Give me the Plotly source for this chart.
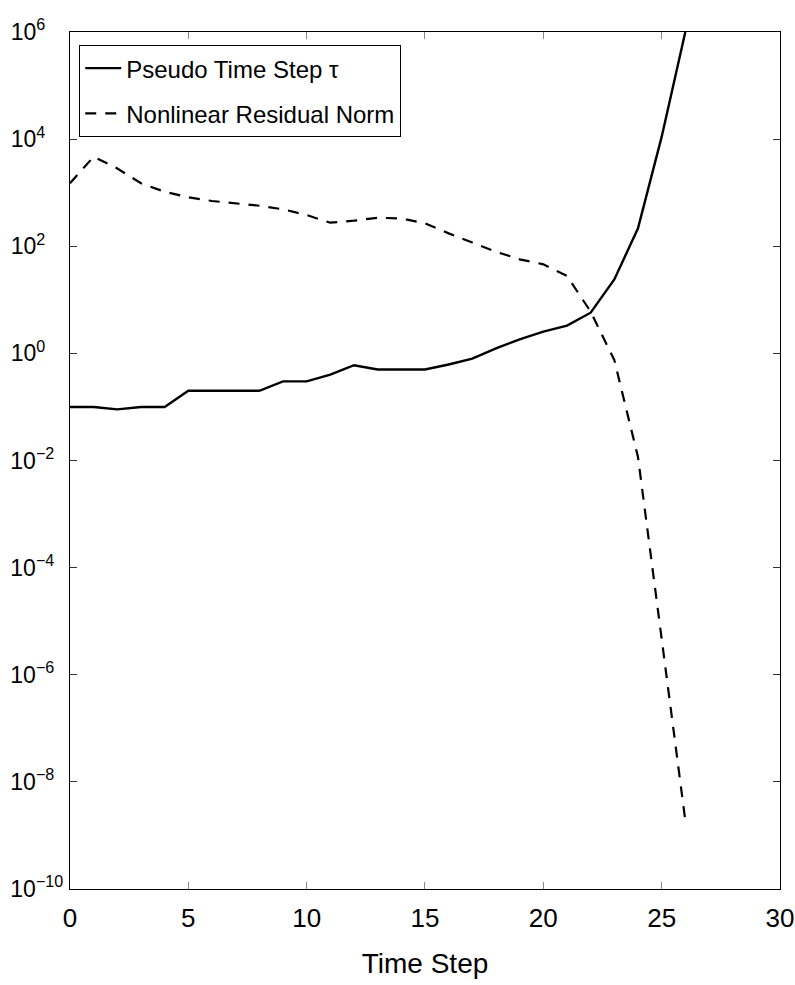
import plotly.graph_objects as go

# Time step index
steps = list(range(27))

# Pseudo time step tau per nonlinear iteration
tau = [0.1, 0.1, 0.09, 0.1, 0.1, 0.2, 0.2, 0.2, 0.2, 0.3, 0.3, 0.4, 0.6,
       0.5, 0.5, 0.5, 0.62, 0.8, 1.24, 1.83, 2.54, 3.3, 5.75, 24, 216,
       1.1e4, 1.0e6]

# Nonlinear residual norm per iteration
residual = [1500, 4700, 2830, 1500, 1040, 819, 700, 634, 571, 490, 383,
            275, 300, 341, 330, 268, 174, 117, 79, 57, 46, 28, 6.0, 0.75,
            0.0116, 4.7e-6, 1.9e-9]

x_ticks = [0, 5, 10, 15, 20, 25, 30]
y_exponents = [-10, -8, -6, -4, -2, 0, 2, 4, 6]

FONT = "Liberation Sans, Arial, Helvetica, sans-serif"


def power_label(e):
    # pad the exponent with figure spaces so every "10" base lines up
    exp = str(e).replace("-", "\u2212")
    pad = "\u2007" * (3 - len(exp))
    return "10<sup>%s%s</sup>" % (exp, pad)


y_tickvals = [10.0 ** e for e in y_exponents]
y_ticktext = [power_label(e) for e in y_exponents]

fig = go.Figure()
fig.add_trace(go.Scatter(
    x=steps, y=tau, mode="lines", name="Pseudo Time Step τ",
    legendgroup="a",
    line=dict(color="black", width=2.4),
))
fig.add_trace(go.Scatter(
    x=steps, y=residual, mode="lines", name="Nonlinear Residual Norm",
    legendgroup="b",
    line=dict(color="black", width=2.2, dash="11px,9px"),
))

fig.update_layout(
    width=795, height=985,
    margin=dict(l=70, r=15, t=32, b=96, autoexpand=False),
    paper_bgcolor="white", plot_bgcolor="white",
    font=dict(family=FONT, size=24, color="black"),
    showlegend=True,
    legend=dict(
        x=0.0127, y=0.985, xanchor="left", yanchor="top",
        bgcolor="white", bordercolor="black", borderwidth=1.2,
        font=dict(family=FONT, size=24, color="black"),
        tracegroupgap=11, itemwidth=36,
    ),
    xaxis=dict(
        range=[0, 30.001], tickvals=x_ticks, ticktext=[str(v) for v in x_ticks],
        ticks="inside", ticklen=7, tickcolor="#888", tickwidth=1.2,
        showline=True, linecolor="black", linewidth=1.4, mirror="ticks",
        showgrid=False, zeroline=False, automargin=False,
        ticklabelstandoff=6,
        title=dict(text="Time Step", font=dict(family=FONT, size=28), standoff=20),
        tickfont=dict(family=FONT, size=26),
    ),
    yaxis=dict(
        type="log", range=[-10, 6.0001],
        tickvals=y_tickvals, ticktext=y_ticktext,
        ticks="inside", ticklen=7, tickcolor="#333", tickwidth=1.2,
        showline=True, linecolor="black", linewidth=1.4, mirror="ticks",
        showgrid=False, zeroline=False, automargin=False,
        ticklabelstandoff=1,
        tickfont=dict(family=FONT, size=23),
    ),
)

fig.write_html("out.html")
